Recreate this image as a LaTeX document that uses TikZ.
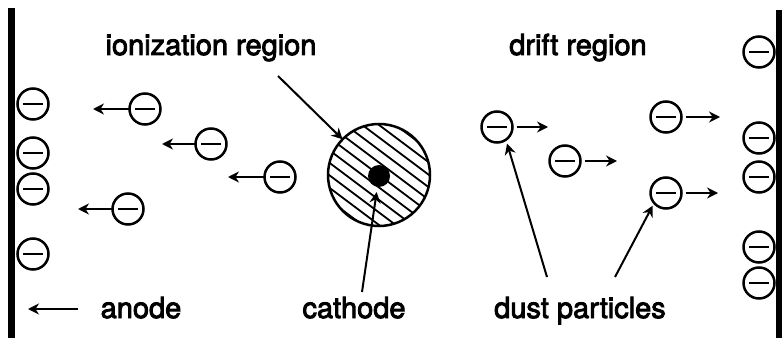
\documentclass[tikz,border=0pt]{standalone}
\usepackage{fontspec}
\setmainfont{TeX Gyre Heros}
\newfontfamily\lblfont[FakeBold=3]{TeX Gyre Heros}
\usetikzlibrary{arrows.meta,calc}
\tikzset{
  particle/.style={circle, draw, line width=2.5pt, minimum size=31pt, inner sep=0pt, outer sep=0pt,
    path picture={\draw[line width=2.6pt] ([xshift=-10pt]path picture bounding box.center) -- ([xshift=10pt]path picture bounding box.center);}},
  arr/.style={line width=2pt, -{Stealth[length=11pt,width=11pt]}},
  lbl/.style={font=\lblfont\fontsize{29}{32}\selectfont, anchor=base, inner sep=0pt},
  wall/.style={fill=black, draw=none}
}
\begin{document}
\begin{tikzpicture}[x=1pt,y=-1pt]
\useasboundingbox (0,0) rectangle (783,339);
% walls
\fill[wall] (8,8) rectangle (15,338);
\fill[wall] (776,10) rectangle (782,338);
% wall particles
\node[particle] (l1) at (33,104) {};
\node[particle] (l2) at (33,153) {};
\node[particle] (l3) at (33,189) {};
\node[particle] (l4) at (33,254) {};
\node[particle] (r1) at (759,52) {};
\node[particle] (r2) at (759,138) {};
\node[particle] (r3) at (759,177) {};
\node[particle] (r4) at (759,247) {};
\node[particle] (r5) at (759,283) {};
% moving particles (left)
\node[particle] (pa) at (145,109) {};
\node[particle] (pb) at (211,144) {};
\node[particle] (pc) at (280,177) {};
\node[particle] (pd) at (128,209) {};
\coordinate (ta) at (93,109);
\coordinate (tb) at (162,144);
\coordinate (tc) at (228,177);
\coordinate (td) at (78,209);
\draw[arr] (pa.west) -- (ta);
\draw[arr] (pb.west) -- (tb);
\draw[arr] (pc.west) -- (tc);
\draw[arr] (pd.west) -- (td);
% moving particles (right)
\node[particle] (pe) at (497,127) {};
\node[particle] (pf) at (565,161) {};
\node[particle] (pg) at (666,117) {};
\node[particle] (ph) at (666,193) {};
\coordinate (te) at (548,127);
\coordinate (tf) at (617,161);
\coordinate (tg) at (720,117);
\coordinate (th) at (718,193);
\draw[arr, shorten <=4pt] (pe.east) -- (te);
\draw[arr, shorten <=4pt] (pf.east) -- (tf);
\draw[arr, shorten <=4pt] (pg.east) -- (tg);
\draw[arr, shorten <=4pt] (ph.east) -- (th);
% ionization region
\begin{scope}
  \clip (379,175) circle (51);
  \foreach \k in {-6,...,6} {
    \draw[line width=1.8pt] ($(379,175)+(\k*-6.0,\k*8.0)+(-64,-48)$) -- ($(379,175)+(\k*-6.0,\k*8.0)+(64,48)$);
  }
\end{scope}
\node[circle, draw, line width=2.5pt, minimum size=102pt, inner sep=0pt, outer sep=0pt] (ion) at (379,175) {};
\node[circle, fill=black, minimum size=22pt, inner sep=0pt] (cath) at (379,176) {};
% labels
\node[lbl] (ionl) at (211,55) {ionization region};
\node[lbl] (drl) at (578,55) {drift region};
\node[lbl] (anl) at (141,318) {anode};
\node[lbl] (cal) at (354,318) {cathode};
\node[lbl] (dul) at (580,318) {dust particles};
% pointer arrows
\coordinate (ionS) at (278,76);
\draw[arr] (ionS) -- (ion);
\coordinate (caS) at (362,292);
\draw[arr, shorten >=5pt] (caS) -- (cath);
\coordinate (d1S) at (547,277);
\draw[arr, shorten >=4pt] (d1S) -- (pe.-55);
\coordinate (d2S) at (615,277);
\draw[arr, shorten >=3pt] (d2S) -- (ph.-140);
\coordinate (anS) at (78,309);
\coordinate (anT) at (28,309);
\draw[arr] (anS) -- (anT);
\end{tikzpicture}
\end{document}
